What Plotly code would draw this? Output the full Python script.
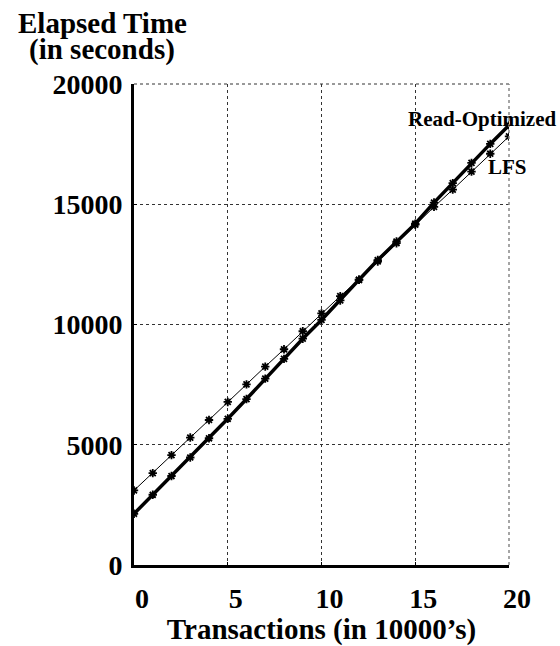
import plotly.graph_objects as go

transactions = list(range(0, 21))
lfs = [3100, 3820, 4570, 5300, 6030, 6780, 7510, 8250, 8970, 9720, 10460,
       11180, 11860, 12620, 13380, 14150, 14890, 15610, 16360, 17100, 17820]
read_optimized = [2130, 2920, 3700, 4470, 5270, 6080, 6900, 7750, 8570, 9410, 10190,
                  11000, 11860, 12680, 13450, 14190, 15070, 15880, 16720, 17510, 18280]
x_ticks = [0, 5, 10, 15, 20]
y_ticks = [0, 5000, 10000, 15000, 20000]

FONT = "Liberation Serif"

fig = go.Figure()
fig.add_trace(go.Scatter(
    x=transactions, y=lfs, mode="lines+markers", name="LFS",
    line=dict(color="black", width=1),
    marker=dict(symbol="asterisk-open", size=7, line=dict(color="black", width=1.8)),
))
fig.add_trace(go.Scatter(
    x=transactions, y=read_optimized, mode="lines+markers", name="Read-Optimized",
    line=dict(color="black", width=3.5),
    marker=dict(symbol="asterisk-open", size=7, line=dict(color="black", width=1.8)),
))

grid = dict(showgrid=True, gridcolor="#333", gridwidth=1, griddash="3px,3px",
            showline=True, linecolor="black", linewidth=3, zeroline=False,
            ticks="inside", ticklen=3, tickwidth=1, tickcolor="black",
            tickfont=dict(family=FONT, size=28, color="black", weight="bold"))

fig.update_layout(
    width=560, height=646,
    margin=dict(l=134, r=51, t=84, b=70),
    plot_bgcolor="white", paper_bgcolor="white",
    showlegend=False,
    xaxis=dict(range=[0, 20], tickvals=x_ticks, ticktext=[str(v) for v in x_ticks],
               ticklabelshift=8, ticklabelstandoff=6,
               title=dict(text="Transactions (in 10000’s)",
                          font=dict(family=FONT, size=29, color="black", weight="bold"),
                          standoff=0),
               **grid),
    yaxis=dict(range=[0, 20000], tickvals=y_ticks, ticktext=[str(v) for v in y_ticks],
               ticklabelstandoff=3, **grid),
    shapes=[
        dict(type="line", xref="paper", yref="paper", x0=0, x1=1, y0=1, y1=1,
             line=dict(color="#333", width=1, dash="3px,3px")),
        dict(type="line", xref="paper", yref="paper", x0=1, x1=1, y0=0, y1=1,
             line=dict(color="#888", width=1.5, dash="3px,3px")),
    ],
    annotations=[
        dict(text="Elapsed Time", xref="paper", yref="paper", x=-0.0853, y=1.0,
             xanchor="center", yanchor="bottom", yshift=43, showarrow=False,
             font=dict(family=FONT, size=29, color="black", weight="bold")),
        dict(text="(in seconds)", xref="paper", yref="paper", x=-0.0853, y=1.0,
             xanchor="center", yanchor="bottom", yshift=16, showarrow=False,
             font=dict(family=FONT, size=29, color="black", weight="bold")),
        dict(text="Read-Optimized", xref="paper", yref="paper", x=0.7253, y=0.928,
             xanchor="left", yanchor="middle", showarrow=False,
             font=dict(family=FONT, size=21, color="black", weight="bold")),
        dict(text="LFS", xref="paper", yref="paper", x=0.9387, y=0.8266,
             xanchor="left", yanchor="middle", showarrow=False,
             font=dict(family=FONT, size=21, color="black", weight="bold")),
    ],
)

fig.write_html("out.html", config={"displayModeBar": False},
               post_script="document.body.style.margin='0';")
